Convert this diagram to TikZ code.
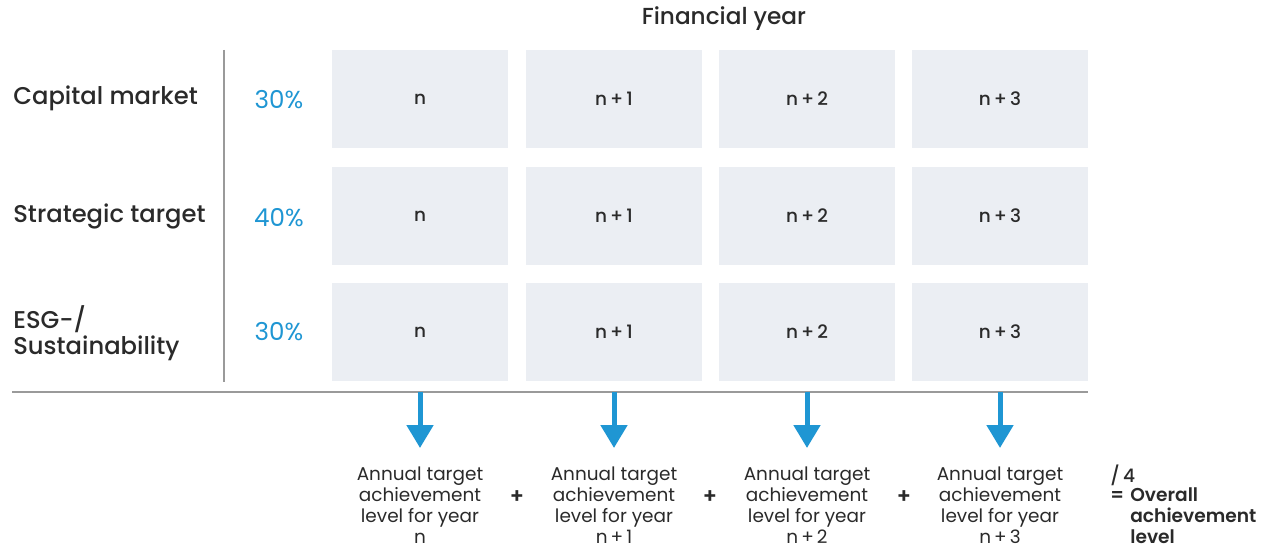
\documentclass[tikz,border=0pt]{standalone}
\usepackage{fontspec}
\setmainfont{Poppins}
\newfontfamily\medfont{Poppins Medium}
\newfontfamily\semifont{Poppins SemiBold}
\usepackage{tikz}
\usetikzlibrary{calc}
\usetikzlibrary{arrows.meta}
\definecolor{CellGray}{HTML}{EBEEF3}
\definecolor{KPIBlue}{HTML}{1F96D3}
\definecolor{Ink}{HTML}{2A2A2A}
\definecolor{RuleGray}{HTML}{9A9A9A}
\tikzset{
  cell/.style={fill=CellGray,minimum width=3.52cm,minimum height=1.96cm,
    inner sep=0pt,text=Ink,font=\medfont\fontsize{10.5}{12}\selectfont},
  rowlabel/.style={anchor=west,inner sep=0pt,text=Ink,align=left,
    font=\medfont\fontsize{13.8}{15}\selectfont},
  weight/.style={text=KPIBlue,inner sep=0pt,font=\fontsize{14}{16}\selectfont},
  yearsum/.style={align=center,inner sep=0pt,text=Ink,
    font=\fontsize{10.5}{12}\selectfont},
  plus/.style={inner sep=0pt,text=Ink,font=\semifont\fontsize{12}{12}\selectfont},
  flow/.style={KPIBlue,line width=0.1cm,-{Triangle[width=0.52cm,length=0.46cm]}},
  rule/.style={RuleGray,line width=0.04cm}
}
\begin{document}
\begin{tikzpicture}[x=0.02cm,y=-0.02cm]
  \useasboundingbox (0,0) rectangle (1265,550);
  \node[text=Ink,inner sep=0pt,font=\medfont\fontsize{13.2}{14}\selectfont]
    (fy) at (724,19) {Financial year};
  % rows
  \node[rowlabel] (lab-1) at (13,98) {Capital market};
  \node[rowlabel] (lab-2) at (13,216) {Strategic target};
  \node[rowlabel] (lab-3) at (13,333) {ESG-/\\Sustainability};
  \node[weight] (w-1) at (279,100) {30\%};
  \node[weight] (w-2) at (279,218) {40\%};
  \node[weight] (w-3) at (279,332) {30\%};
  \draw[rule] (224,50) -- (224,382);
  \draw[rule] (12,392) -- (1088,392);
  % grid of years
  \foreach \r/\y in {1/99,2/216,3/332}{
    \node[cell] (c-\r-1) at (420,\y) {n};
    \node[cell] (c-\r-2) at (614,\y) {n\,+\,1};
    \node[cell] (c-\r-3) at (807,\y) {n\,+\,2};
    \node[cell] (c-\r-4) at (1000,\y) {n\,+\,3};
  }
  % arrows and annual levels
  \foreach \i/\x/\t in {1/420/n,2/614/n\,+\,1,3/807/n\,+\,2,4/1000/n\,+\,3}{
    \coordinate (top-\i) at (\x,392);
    \coordinate (tip-\i) at (\x,448);
    \draw[flow] (top-\i) -- (tip-\i);
    \node[yearsum] (sum-\i) at (\x,505)
      {Annual target\\achievement\\level for year\\\t};
  }
  \node[plus] (p-1) at (517,497) {+};
  \node[plus] (p-2) at (710,497) {+};
  \node[plus] (p-3) at (904,497) {+};
  \node[anchor=west,inner sep=0pt,text=Ink,font=\medfont\fontsize{10.6}{12}\selectfont]
    (div) at (1110,475) {/\,4};
  \node[anchor=west,inner sep=0pt,text=Ink,font=\semifont\fontsize{10.6}{12}\selectfont]
    (eq) at (1110,496) {=};
  \node[anchor=west,inner sep=0pt,align=left,text=Ink,
    font=\semifont\fontsize{10.6}{12}\selectfont]
    (total) at (1130,516) {Overall\\achievement\\level};
\end{tikzpicture}
\end{document}
